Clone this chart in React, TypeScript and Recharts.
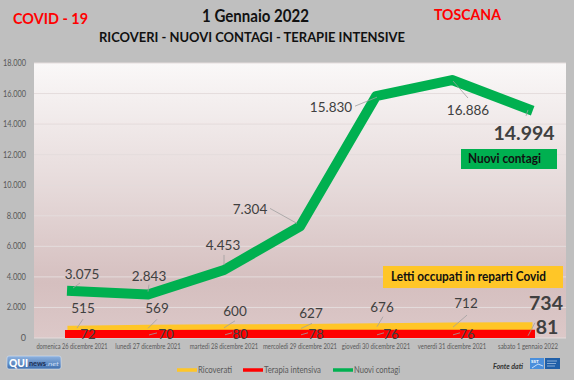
import React from 'react';
import { LineChart, Line, XAxis, YAxis, CartesianGrid } from 'recharts';

const categories = [
  'domenica 26 dicembre 2021',
  'lunedì 27 dicembre 2021',
  'martedì 28 dicembre 2021',
  'mercoledì 29 dicembre 2021',
  'giovedì 30 dicembre 2021',
  'venerdì 31 dicembre 2021',
  'sabato 1 gennaio 2022',
];
const ricoverati = [515, 569, 600, 627, 676, 712, 734];
const terapiaIntensiva = [72, 70, 80, 78, 76, 76, 81];
const nuoviContagi = [3075, 2843, 4453, 7304, 15830, 16886, 14994];
const yTicks = [0, 2000, 4000, 6000, 8000, 10000, 12000, 14000, 16000, 18000];
const seriesNames = ['Ricoverati', 'Terapia intensiva', 'Nuovi contagi'];

const data = categories.map((c, i) => ({
  day: c,
  ricoverati: ricoverati[i],
  terapia: terapiaIntensiva[i],
  contagi: nuoviContagi[i],
}));

const YELLOW = '#ffc627';
const RED = '#ff0000';
const GREEN = '#00b050';
const FONT = 'Lato, "Open Sans", sans-serif';

const fmt = (v: number) => String(v).replace(/\B(?=(\d{3})+(?!\d))/g, '.');

// label placement: [dx, dy, leader x1, y1, x2, y2] relative to the point
type Place = number[];
const greenPlace: Place[] = [
  [10, -17, 1, -3, 8, -8],
  [1, -19, 0, -3, 1, -10],
  [-1, -25, 0, -5, 0, -15],
  [-50, -17, -3, -3, -30, -18],
  [-45, 11, 1, 1, -21, 10],
  [16, 30, 1, 1, 16, 18],
  [-4, 24, 0, 1, -2, 7],
];
const yellowPlace: Place[] = [
  [11, -22, 5, -2, 11, -11],
  [9, -21, 0, -1, 9, -10],
  [11, -18, 0, -1, 11, -8],
  [11, -15, 1, 0, 12, -5],
  [6, -21, 1, -1, 7, -11],
  [14, -24, 1, 0, 15, -12],
  [18, -24, 0, 0, 0, 0],
];
const redPlace: Place[] = [
  [16, -3, 0, 0, 0, 0],
  [18, -3, 1, -2, 9, -4],
  [16, -3, 1, -2, 8, -4],
  [16, -3, 1, -2, 8, -4],
  [15, -3, 1, -2, 8, -4],
  [15, -3, 1, -2, 8, -4],
  [19, -10, 0, -1, 7, -14],
];

const makeLabel = (places: Place[]) => (props: any) => {
  const { x, y, value, index } = props;
  if (x == null || y == null) return null;
  const p = places[index];
  const last = index === places.length - 1;
  const hasLeader = !(p[2] === 0 && p[3] === 0 && p[4] === 0 && p[5] === 0);
  return (
    <g key={`lbl-${index}`}>
      {hasLeader && (
        <line
          x1={x + p[2]}
          y1={y + p[3]}
          x2={x + p[4]}
          y2={y + p[5]}
          stroke="#a0a0a0"
          strokeWidth={0.8}
        />
      )}
      <text
        x={x + p[0]}
        y={y + p[1]}
        dy={last ? 7 : 5}
        textAnchor="middle"
        fontFamily={FONT}
        fontSize={last ? 19.5 : 13.5}
        fontWeight={last ? 700 : 400}
        fill="#404040"
      >
        {fmt(value)}
      </text>
    </g>
  );
};

const XTick = (props: any) => {
  const { x, y, payload } = props;
  const s = String(payload.value);
  return (
    <text
      x={x}
      y={y + 3}
      textAnchor="middle"
      fontFamily={FONT}
      fontSize={7.3}
      fill="#595959"
      textLength={s.length * 2.85}
      lengthAdjust="spacingAndGlyphs"
    >
      {s}
    </text>
  );
};

const YTick = (props: any) => {
  const { x, y, payload } = props;
  const s = fmt(payload.value);
  return (
    <text
      x={x}
      y={y + 3}
      textAnchor="end"
      fontFamily={FONT}
      fontSize={9}
      fill="#595959"
      textLength={s.length > 1 ? s.length * 3.85 : undefined}
      lengthAdjust="spacingAndGlyphs"
    >
      {s}
    </text>
  );
};

export default function App() {
  return (
    <div
      style={{
        position: 'absolute',
        left: 0,
        top: 0,
        width: 574,
        height: 380,
        background: '#bfbfbf',
        overflow: 'hidden',
      }}
    >
      <svg width={0} height={0} style={{ position: 'absolute' }}>
        <defs>
          <linearGradient id="plotBg" x1="0" y1="0" x2="0" y2="1">
            <stop offset="0%" stopColor="#faf8f8" />
            <stop offset="45%" stopColor="#e6dada" />
            <stop offset="80%" stopColor="#d5bfbf" />
            <stop offset="100%" stopColor="#dcc8c8" />
          </linearGradient>
          <linearGradient id="quiBg" x1="0" y1="0" x2="0" y2="1">
            <stop offset="0%" stopColor="#8fb3e0" />
            <stop offset="100%" stopColor="#3f6fae" />
          </linearGradient>
        </defs>
      </svg>
      <LineChart
        width={574}
        height={380}
        data={data}
        margin={{ top: 63, right: 8, bottom: 0, left: 0 }}
      >
        <CartesianGrid vertical={false} stroke="#e4dcdc" fill="url(#plotBg)" fillOpacity={1} />
        <XAxis
          dataKey="day"
          interval={0}
          height={42}
          axisLine={false}
          tickLine={false}
          padding={{ left: 38, right: 38 }}
          tick={<XTick />}
        />
        <YAxis
          width={34}
          domain={[0, 18000]}
          ticks={yTicks}
          interval={0}
          allowDataOverflow={true}
          axisLine={false}
          tickLine={false}
          tick={<YTick />}
        />
        <Line
          dataKey="ricoverati"
          name={seriesNames[0]}
          stroke={YELLOW}
          strokeWidth={9}
          strokeLinecap="square"
          strokeLinejoin="round"
          dot={false}
          activeDot={false}
          isAnimationActive={false}
          label={makeLabel(yellowPlace)}
        />
        <Line
          dataKey="terapia"
          name={seriesNames[1]}
          stroke={RED}
          strokeWidth={14}
          strokeLinecap="square"
          strokeLinejoin="round"
          dot={false}
          activeDot={false}
          isAnimationActive={false}
          label={makeLabel(redPlace)}
        />
        <Line
          dataKey="contagi"
          name={seriesNames[2]}
          stroke={GREEN}
          strokeWidth={10}
          strokeLinecap="square"
          strokeLinejoin="round"
          dot={false}
          activeDot={false}
          isAnimationActive={false}
          label={makeLabel(greenPlace)}
        />
      </LineChart>
      <svg
        width={574}
        height={380}
        style={{ position: 'absolute', left: 0, top: 0, pointerEvents: 'none' }}
        fontFamily={FONT}
      >
        <text x={13} y={24} fontSize={16} fontWeight={700} fill="#ff0000" textLength={75} lengthAdjust="spacingAndGlyphs">
          COVID - 19
        </text>
        <text x={202} y={22} fontSize={16.5} fontWeight={700} fill="#111" textLength={107} lengthAdjust="spacingAndGlyphs">
          1 Gennaio 2022
        </text>
        <text x={99} y={42} fontSize={14} fontWeight={700} fill="#111" textLength={306} lengthAdjust="spacingAndGlyphs">
          RICOVERI - NUOVI CONTAGI - TERAPIE INTENSIVE
        </text>
        <text x={434} y={20} fontSize={15.5} fontWeight={700} fill="#ff0000" textLength={67} lengthAdjust="spacingAndGlyphs">
          TOSCANA
        </text>

        <rect x={461} y={149} width={96} height={20} fill={GREEN} />
        <text x={468} y={163} fontSize={12.5} fontWeight={700} fill="#111" textLength={73} lengthAdjust="spacingAndGlyphs">
          Nuovi contagi
        </text>

        <rect x={383} y={266} width={180} height={22} fill={YELLOW} />
        <text x={391} y={281} fontSize={13} fontWeight={700} fill="#111" textLength={155} lengthAdjust="spacingAndGlyphs">
          Letti occupati in reparti Covid
        </text>

        <line x1={177} y1={370} x2={197} y2={370} stroke={YELLOW} strokeWidth={3.5} />
        <text x={198} y={373} fontSize={8.5} fill="#595959" textLength={34} lengthAdjust="spacingAndGlyphs">
          {seriesNames[0]}
        </text>
        <line x1={243} y1={370} x2={263} y2={370} stroke={RED} strokeWidth={3.5} />
        <text x={264} y={373} fontSize={8.5} fill="#595959" textLength={57} lengthAdjust="spacingAndGlyphs">
          {seriesNames[1]}
        </text>
        <line x1={333} y1={370} x2={353} y2={370} stroke={GREEN} strokeWidth={3.5} />
        <text x={354} y={373} fontSize={8.5} fill="#595959" textLength={46} lengthAdjust="spacingAndGlyphs">
          {seriesNames[2]}
        </text>

        <rect x={7} y={356} width={54} height={13} rx={2} fill="url(#quiBg)" stroke="#d6e2f2" strokeWidth={0.6} />
        <text x={9} y={367} fontSize={11} fontWeight={900} fill="#ffffff" textLength={19} lengthAdjust="spacingAndGlyphs">
          QUI
        </text>
        <text x={29} y={366} fontSize={7.5} fontWeight={700} fill="#1c2f55" textLength={17} lengthAdjust="spacingAndGlyphs">
          news
        </text>
        <text x={46} y={366} fontSize={6.5} fontStyle="italic" fill="#c8dcf4" textLength={13} lengthAdjust="spacingAndGlyphs">
          .net
        </text>

        <text x={493} y={369} fontSize={8} fontStyle="italic" fontWeight={700} fill="#333" textLength={30} lengthAdjust="spacingAndGlyphs">
          Fonte dati
        </text>
        <rect x={530} y={358} width={14} height={11} fill="#4a8fdc" />
        <text x={531} y={363} fontSize={4.5} fontWeight={700} fill="#fff">SST</text>
        <path d="M532 368 L538 364 L543 366" stroke="#e8f0ff" strokeWidth={0.8} fill="none" />
        <rect x={545} y={358} width={15} height={11} fill="#1f5fa8" />
        <line x1={547} y1={361} x2={557} y2={361} stroke="#cfe0f5" strokeWidth={0.6} />
        <line x1={547} y1={363.5} x2={556} y2={363.5} stroke="#cfe0f5" strokeWidth={0.6} />
        <line x1={547} y1={366} x2={555} y2={366} stroke="#cfe0f5" strokeWidth={0.6} />
      </svg>
    </div>
  );
}
